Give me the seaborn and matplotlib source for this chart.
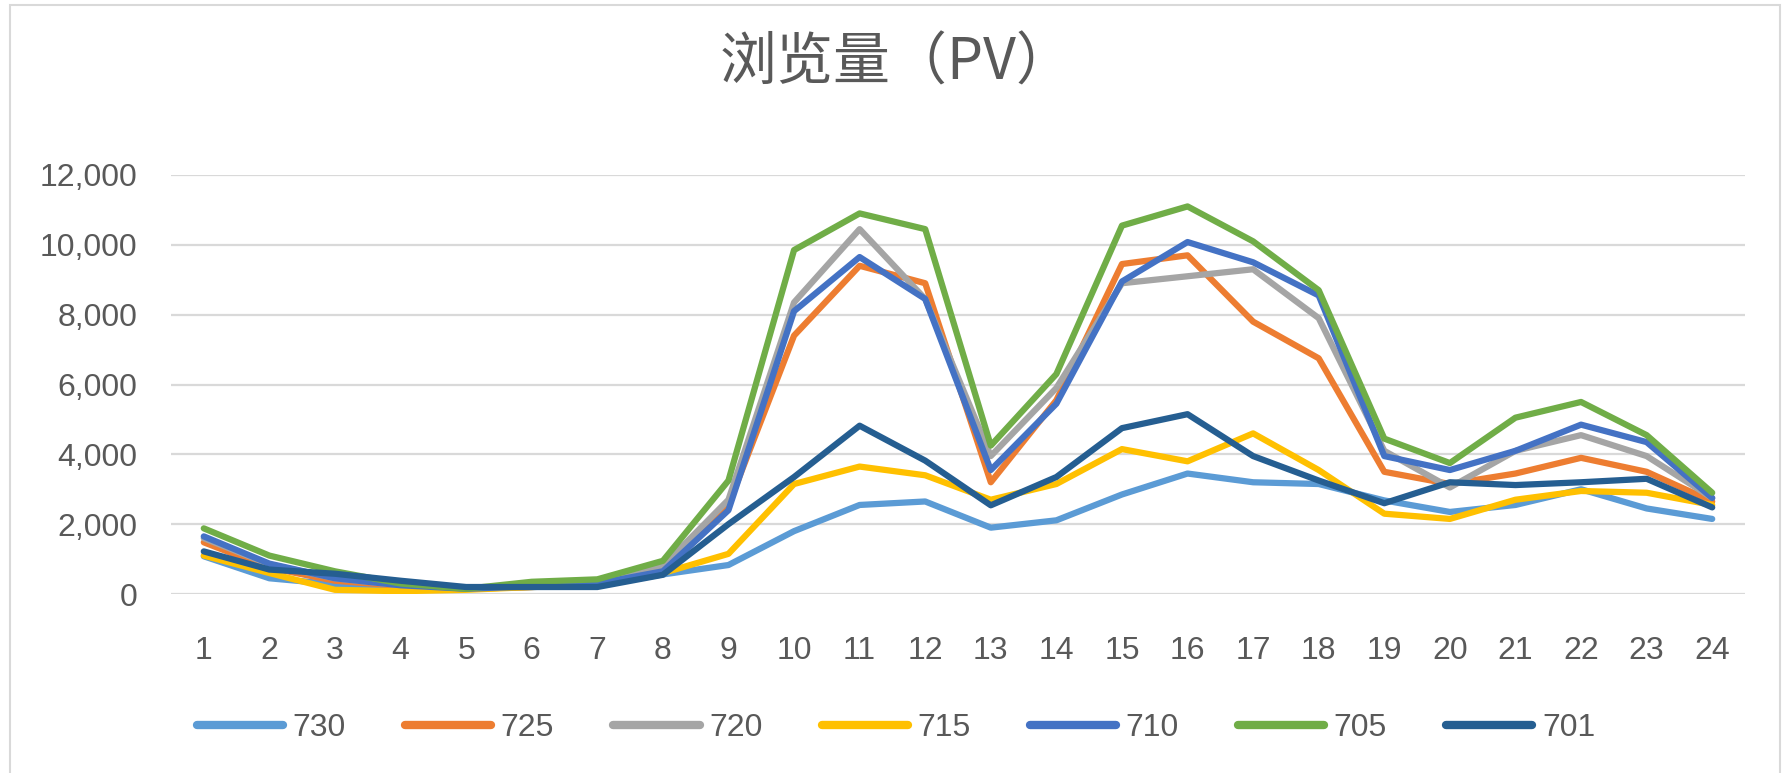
import pandas as pd
import matplotlib.pyplot as plt
import seaborn as sns
from matplotlib.patches import Rectangle

hours = list(range(1, 25))
series_names = ['730', '725', '720', '715', '710', '705', '701']
colors = ['#5B9BD5', '#ED7D31', '#A5A5A5', '#FFC000', '#4472C4', '#70AD47', '#255E91']

pv_730 = [1080, 450, 280, 200, 150, 200, 250, 560, 830, 1800, 2550, 2650,
          1900, 2110, 2850, 3450, 3200, 3150, 2680, 2350, 2550, 3000, 2450, 2150]
pv_725 = [1480, 750, 380, 230, 150, 200, 300, 700, 2550, 7400, 9400, 8900,
          3200, 5550, 9450, 9700, 7800, 6750, 3500, 3150, 3450, 3900, 3500, 2650]
pv_720 = [1600, 850, 450, 250, 150, 250, 320, 800, 2700, 8350, 10450, 8450,
          3950, 5900, 8900, 9100, 9300, 7900, 4100, 3050, 4100, 4550, 3950, 2750]
pv_715 = [1100, 600, 120, 80, 120, 200, 250, 600, 1150, 3150, 3650, 3400,
          2700, 3150, 4150, 3800, 4600, 3550, 2300, 2150, 2700, 2950, 2900, 2550]
pv_710 = [1650, 870, 450, 250, 150, 220, 300, 650, 2400, 8100, 9650, 8450,
          3550, 5450, 8950, 10080, 9500, 8550, 3950, 3550, 4100, 4850, 4350, 2750]
pv_705 = [1880, 1100, 650, 300, 150, 350, 420, 950, 3250, 9850, 10900, 10450,
          4250, 6300, 10550, 11100, 10100, 8700, 4450, 3750, 5050, 5500, 4550, 2900]
pv_701 = [1220, 700, 580, 380, 200, 200, 200, 550, 2000, 3350, 4820, 3820,
          2540, 3350, 4750, 5150, 3950, 3250, 2600, 3200, 3120, 3200, 3300, 2480]

values = [pv_730, pv_725, pv_720, pv_715, pv_710, pv_705, pv_701]
rows = []
for name, vals in zip(series_names, values):
    for h, v in zip(hours, vals):
        rows.append({'hour': h, 'pv': v, 'series': name})
df = pd.DataFrame(rows)

sns.set_style('white')
plt.rcParams['font.family'] = ['Liberation Sans', 'Noto Sans CJK SC', 'DejaVu Sans']

fig = plt.figure(figsize=(17.92, 7.73), dpi=100)
ax = fig.add_axes([171 / 1792, 1 - 594 / 773, (1745 - 171) / 1792, (594 - 175) / 773])

sns.lineplot(data=df, x='hour', y='pv', hue='series', hue_order=series_names,
             palette=dict(zip(series_names, colors)), linewidth=4.5,
             solid_joinstyle='round', solid_capstyle='round', ax=ax, legend=True)

ax.set_xlim(0.5, 24.5)
ax.set_ylim(0, 12000)
ax.set_xticks(hours)
ax.set_yticks(range(0, 12001, 2000))
ax.set_yticklabels([f'{v:,}' for v in range(0, 12001, 2000)])
ax.set_xlabel('')
ax.set_ylabel('')
ax.grid(axis='y', color='#D9D9D9', linewidth=1.6)
ax.set_axisbelow(True)
for s in ax.spines.values():
    s.set_visible(False)
ax.tick_params(axis='y', length=0, pad=24, labelsize=23, labelcolor='#595959')
ax.tick_params(axis='x', length=0, pad=30, labelsize=23, labelcolor='#595959')

handles, labels = ax.get_legend_handles_labels()
for h in handles:
    h.set_linewidth(6)
leg = fig.legend(handles, labels, loc='center', bbox_to_anchor=(0.5, 1 - 728 / 773),
                 ncol=7, frameon=False, fontsize=23, handlelength=2.7,
                 handletextpad=0.3, columnspacing=1.85, labelcolor='#595959')
ax.get_legend().remove()

fig.text(897 / 1792, 1 - 63 / 773, '浏览量（PV）', ha='center', va='center',
         fontsize=41, color='#595959', family=['Noto Sans CJK SC', 'DejaVu Sans'])

fig.patches.append(Rectangle((10 / 1792, -0.05), (1780 - 10) / 1792, 1.05 - 5 / 773,
                             transform=fig.transFigure, fill=False,
                             edgecolor='#D9D9D9', linewidth=1.5))

fig.savefig('out.png', dpi=100, facecolor='white')
